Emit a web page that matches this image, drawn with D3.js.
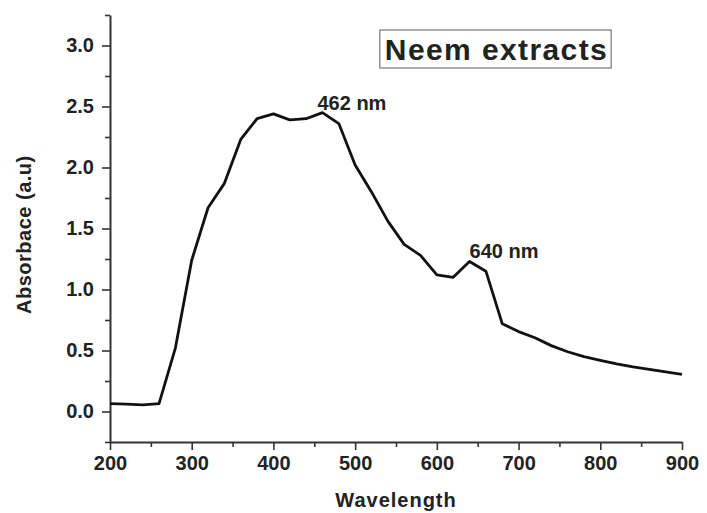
<!DOCTYPE html>
<html>
<head>
<meta charset="utf-8">
<script src="https://cdn.jsdelivr.net/npm/d3@7"></script>
<style>
  body { margin: 0; background: #fff; }
  text { font-family: "Liberation Sans", Arial, sans-serif; font-weight: bold; fill: #222; }
</style>
</head>
<body>
<div id="chart"></div>
<script>
// wavelength (nm) and absorbance
const wavelength = [200,220,240,260,280,300,320,340,360,380,400,420,440,460,480,500,520,540,560,580,600,620,640,660,680,700,720,740,760,780,800,820,840,860,880,900];
const absorbance = [0.065,0.06,0.055,0.065,0.52,1.24,1.67,1.87,2.23,2.40,2.44,2.39,2.40,2.45,2.36,2.02,1.80,1.56,1.37,1.28,1.12,1.10,1.23,1.15,0.72,0.655,0.605,0.54,0.49,0.45,0.42,0.39,0.365,0.345,0.325,0.305];
const xTicks = [200,300,400,500,600,700,800,900];
const yTicks = [0.0,0.5,1.0,1.5,2.0,2.5,3.0];
const peaks = [{label:"462 nm", x:460, y:2.45, dx:-5}, {label:"640 nm", x:640, y:1.23, dx:0}];

const W = 707, H = 513;
const margin = {top: 15, right: 25, bottom: 71, left: 110},
  width = W - margin.left - margin.right,
  height = H - margin.top - margin.bottom;

const svg = d3.select("#chart").append("svg")
  .attr("width", W).attr("height", H)
  .append("g")
  .attr("transform", "translate(" + margin.left + "," + margin.top + ")");

const x = d3.scaleLinear().domain([200, 900]).range([0, width]);
const y = d3.scaleLinear().domain([-0.25, 3.25]).range([height, 0]);

// minor ticks
svg.append("g")
  .attr("transform", "translate(0," + height + ")")
  .call(d3.axisBottom(x).tickValues(d3.range(250, 900, 100)).tickSize(5).tickFormat(""))
  .call(g => g.select(".domain").remove());
svg.append("g")
  .call(d3.axisLeft(y).tickValues(d3.range(-0.25, 3.3, 0.5)).tickSize(5).tickFormat(""))
  .call(g => g.select(".domain").remove());

// major axes
svg.append("g")
  .attr("transform", "translate(0," + height + ")")
  .call(d3.axisBottom(x).tickValues(xTicks).tickSize(8).tickSizeOuter(0).tickPadding(6).tickFormat(d3.format("d")));
svg.append("g")
  .call(d3.axisLeft(y).tickValues(yTicks).tickSize(8).tickSizeOuter(0).tickPadding(8).tickFormat(d3.format(".1f")));

svg.selectAll(".domain").attr("stroke", "#333").attr("stroke-width", 2);
svg.selectAll(".tick line").attr("stroke", "#333").attr("stroke-width", 1.6);
svg.selectAll(".tick text").style("font-size", "20px").style("font-family", "'Liberation Sans', Arial, sans-serif").style("font-weight", "bold").attr("fill", "#222");

// line
const line = d3.line().x((d, i) => x(wavelength[i])).y(d => y(d));
svg.append("path")
  .datum(absorbance)
  .attr("fill", "none")
  .attr("stroke", "#111")
  .attr("stroke-width", 2.8)
  .attr("stroke-linejoin", "round")
  .attr("d", line);

// peak labels
svg.selectAll(".peak")
  .data(peaks)
  .enter().append("text")
  .attr("class", "peak")
  .attr("x", d => x(d.x) + d.dx)
  .attr("y", d => y(d.y) - 3)
  .style("font-size", "20px")
  .text(d => d.label);

// axis titles
svg.append("text")
  .attr("x", width / 2)
  .attr("y", height + 65)
  .attr("text-anchor", "middle")
  .style("font-size", "20px")
  .style("letter-spacing", "1px")
  .text("Wavelength");

svg.append("text")
  .attr("transform", "translate(-79," + (y(1.45)) + ") rotate(-90)")
  .attr("text-anchor", "middle")
  .style("font-size", "20px")
  .style("letter-spacing", "0.5px")
  .text("Absorbace (a.u)");

// title box
const box = svg.append("rect");
const title = svg.append("text")
  .attr("x", x(673))
  .attr("y", 45)
  .attr("text-anchor", "middle")
  .style("font-size", "30px")
  .style("letter-spacing", "1.4px")
  .text("Neem extracts");
const bb = title.node().getBBox();
box.attr("x", bb.x - 5).attr("y", 15)
  .attr("width", bb.width + 8).attr("height", 38)
  .attr("fill", "none")
  .attr("stroke", "#777")
  .attr("stroke-width", 1.2);
</script>
</body>
</html>
